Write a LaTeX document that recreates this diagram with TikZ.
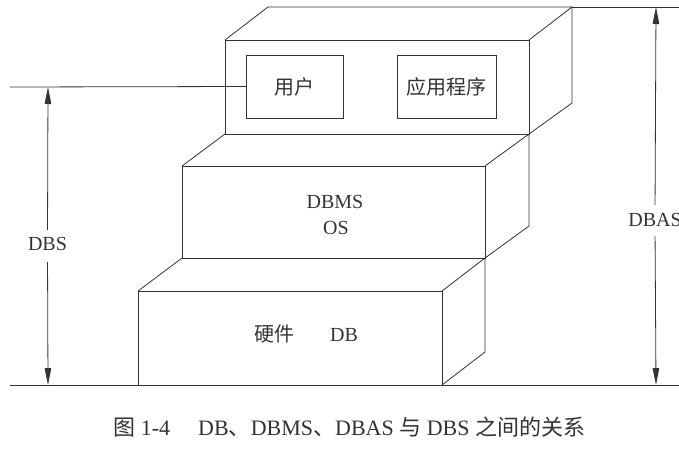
\documentclass[tikz,border=0pt]{standalone}
\usepackage{fontspec}
\setmainfont{Liberation Serif}
\newfontfamily\cjk{Noto Sans CJK SC}
\usetikzlibrary{arrows.meta}
\definecolor{ink}{HTML}{333333}
\begin{document}
\begin{tikzpicture}[x=1pt,y=-1pt,line width=0.8pt,color=ink,
  face/.style={draw,inner sep=0pt,outer sep=0pt,anchor=north west},
  inbox/.style={draw,inner sep=0pt,outer sep=0pt,minimum height=63pt,font=\fontsize{20}{24}\selectfont\cjk},
  lbl/.style={inner sep=0pt,font=\fontsize{20}{24}\selectfont},
  clbl/.style={inner sep=0pt,font=\fontsize{20}{24}\selectfont\cjk},
  caplbl/.style={inner sep=0pt,font=\fontsize{22}{26}\selectfont},
  ar/.style={-{Triangle[length=17pt,width=6.5pt]}}]
\useasboundingbox (0,0) rectangle (679,448);
% front faces
\node[face,minimum width=304pt,minimum height=94pt] (topf) at (225,40) {};
\node[face,minimum width=303pt,minimum height=92pt] (midf) at (182,166) {};
\node[face,minimum width=304pt,minimum height=94pt] (botf) at (138,291) {};
% depth corners
\coordinate (t1) at (268,7);
\coordinate (t2) at (572,7);
\coordinate (t3) at (572,103);
\coordinate (m3) at (529,226);
\coordinate (b3) at (485,352);
% top box
\draw (topf.north west) -- (t1) -- (t2) -- (topf.north east);
\draw (t2) -- (t3) -- (topf.south east);
% middle box
\draw (midf.north west) -- (topf.south west);
\draw (midf.north east) -- (topf.south east) -- (m3) -- (midf.south east);
% bottom box
\draw (botf.north west) -- (midf.south west);
\draw (botf.north east) -- (midf.south east) -- (b3) -- (botf.south east);
% inner boxes
\node[inbox,minimum width=97pt] (user) at (294.5,86.5) {用户};
\node[inbox,minimum width=99pt] (app) at (446.5,86.5) {应用程序};
% labels in boxes
\node[lbl] (dbms) at (335,201.5) {DBMS};
\node[lbl] (os) at (336,227.5) {OS};
\node[clbl] (hw) at (274,334) {硬件};
\node[lbl] (db) at (344,335) {DB};
% reference lines
\coordinate (g0) at (10,385);
\coordinate (g1) at (679,385);
\coordinate (u0) at (10,87);
\coordinate (e1) at (679,7);
\draw (g0) -- (g1);
\draw (u0) -- (user.west);
\draw (t2) -- (e1);
% DBS dimension
\coordinate (dbstop) at (48,87);
\coordinate (dbsbot) at (48,385);
\node[lbl] (dbs) at (47.5,244) {DBS};
\draw[ar,shorten <=7pt] (dbs.north) -- (dbstop);
\draw[ar,shorten <=11pt] (dbs.south) -- (dbsbot);
% DBAS dimension
\coordinate (dbastop) at (656,7);
\coordinate (dbasbot) at (656,385);
\node[lbl] (dbas) at (655,220) {DBAS};
\draw[ar,shorten <=8pt] (dbas.north) -- (dbastop);
\draw[ar,shorten <=9pt] (dbas.south) -- (dbasbot);
% caption
\node[caplbl,anchor=base west] (cap) at (113,435) {{\cjk 图} 1-4\hspace{28pt}DB{\cjk 、}DBMS{\cjk 、}DBAS {\cjk 与} DBS {\cjk 之间的关系}};
\end{tikzpicture}
\end{document}
